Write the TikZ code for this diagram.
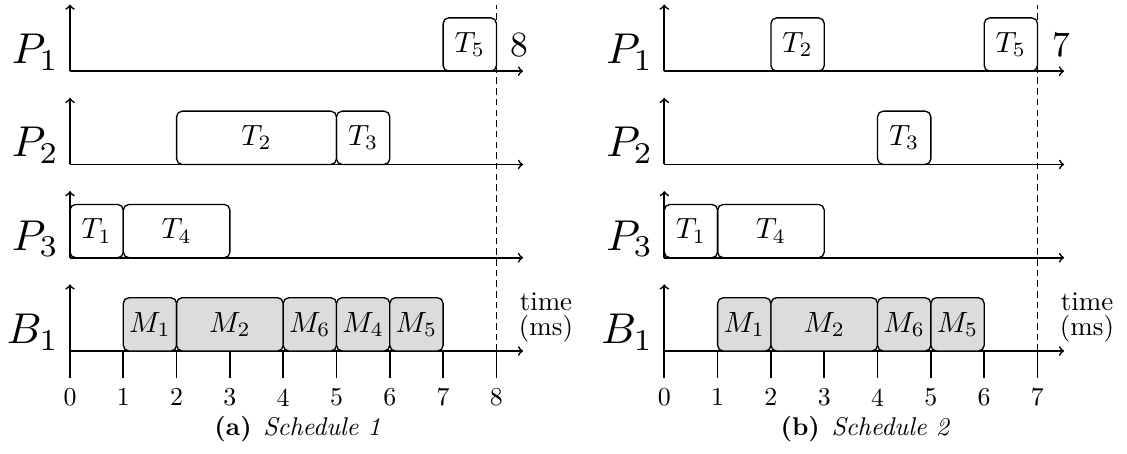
\documentclass[tikz,border=0pt]{standalone}
\usepackage{graphicx}
\definecolor{boxgray}{RGB}{220,220,220}
\newcommand{\bxt}[1]{\scalebox{1.56}{$#1$}}
\newcommand{\rwl}[1]{\scalebox{2.3}{$#1$}}
\newcommand{\tkl}[1]{\scalebox{1.38}{#1}}
\newcommand{\enl}[1]{\scalebox{1.9}{#1}}
\newcommand{\tml}{\scalebox{1.44}{\begin{tabular}{@{}c@{}}time\\[-2.7pt](ms)\end{tabular}}}
\newcommand{\cpl}[2]{\scalebox{1.37}{\textbf{(#1)}\hspace{0.45em}\textit{Schedule #2}}}
\tikzset{
  ax/.style={line width=0.9pt,->},
  tk/.style={line width=0.9pt},
  dl/.style={line width=0.7pt,dash pattern=on 3.5pt off 2.2pt},
  tbox/.style={draw,line width=0.7pt,rounded corners=3pt,inner sep=0pt,outer sep=0pt,
    minimum height=1cm},
  mbox/.style={tbox,fill=boxgray},
  rowlab/.style={anchor=base east,inner sep=0pt},
  ticklab/.style={inner sep=0pt},
  timelab/.style={inner sep=0pt},
  caplab/.style={anchor=base,inner sep=0pt},
}
\begin{document}
\begin{tikzpicture}
\useasboundingbox (-1.313,-1.932) rectangle (19.83,6.585);
% ---------------- panel (a) ----------------
\begin{scope}
\foreach \r/\y/\lab in {1/5.25/P_1,2/3.5/P_2,3/1.75/P_3,4/0/B_1}{
  \coordinate (a-o\r) at (0,\y);
  \coordinate (a-e\r) at (8.5,\y);
  \coordinate (a-v\r) at (0,\y+1.25);
  \draw[ax] (a-o\r) -- (a-e\r);
  \draw[ax] (a-o\r) -- (a-v\r);
  \node[rowlab] (a-lab\r) at (-0.2,\y+0.14) {\rwl{\lab}};
}
\foreach \i in {0,...,8}{
  \coordinate (a-tk\i) at (\i,0);
  \coordinate (a-tb\i) at (\i,-0.5);
  \draw[tk] (a-tk\i) -- (a-tb\i);
  \node[ticklab] (a-tl\i) at (\i,-0.87) {\tkl{\i}};
}
\coordinate (a-dt) at (8,6.5);
\draw[dl] (a-tk8) -- (a-dt);
\node[ticklab] (a-end) at (8.44,5.74) {\enl{8}};
\node[timelab] (a-time) at (8.93,0.64) {\tml};
% P1
\node[tbox,minimum width=1cm] (a-T5) at (7.5,5.75) {\bxt{T_5}};
% P2
\node[tbox,minimum width=3cm] (a-T2) at (3.5,4.0) {\bxt{T_2}};
\node[tbox,minimum width=1cm] (a-T3) at (5.5,4.0) {\bxt{T_3}};
% P3
\node[tbox,minimum width=1cm] (a-T1) at (0.5,2.25) {\bxt{T_1}};
\node[tbox,minimum width=2cm] (a-T4) at (2,2.25) {\bxt{T_4}};
% B1
\node[mbox,minimum width=1cm] (a-M1) at (1.5,0.5) {\bxt{M_1}};
\node[mbox,minimum width=2cm] (a-M2) at (3,0.5) {\bxt{M_2}};
\node[mbox,minimum width=1cm] (a-M6) at (4.5,0.5) {\bxt{M_6}};
\node[mbox,minimum width=1cm] (a-M4) at (5.5,0.5) {\bxt{M_4}};
\node[mbox,minimum width=1cm] (a-M5) at (6.5,0.5) {\bxt{M_5}};
\node[caplab] (a-cap) at (4.27,-1.58) {\cpl{a}{1}};
\end{scope}
% ---------------- panel (b) ----------------
\begin{scope}[xshift=11.15cm]
\foreach \r/\y/\lab in {1/5.25/P_1,2/3.5/P_2,3/1.75/P_3,4/0/B_1}{
  \coordinate (b-o\r) at (0,\y);
  \coordinate (b-e\r) at (7.5,\y);
  \coordinate (b-v\r) at (0,\y+1.25);
  \draw[ax] (b-o\r) -- (b-e\r);
  \draw[ax] (b-o\r) -- (b-v\r);
  \node[rowlab] (b-lab\r) at (-0.2,\y+0.14) {\rwl{\lab}};
}
\foreach \i in {0,...,7}{
  \coordinate (b-tk\i) at (\i,0);
  \coordinate (b-tb\i) at (\i,-0.5);
  \draw[tk] (b-tk\i) -- (b-tb\i);
  \node[ticklab] (b-tl\i) at (\i,-0.87) {\tkl{\i}};
}
\coordinate (b-dt) at (7,6.5);
\draw[dl] (b-tk7) -- (b-dt);
\node[ticklab] (b-end) at (7.44,5.74) {\enl{7}};
\node[timelab] (b-time) at (7.93,0.64) {\tml};
% P1
\node[tbox,minimum width=1cm] (b-T2) at (2.5,5.75) {\bxt{T_2}};
\node[tbox,minimum width=1cm] (b-T5) at (6.5,5.75) {\bxt{T_5}};
% P2
\node[tbox,minimum width=1cm] (b-T3) at (4.5,4.0) {\bxt{T_3}};
% P3
\node[tbox,minimum width=1cm] (b-T1) at (0.5,2.25) {\bxt{T_1}};
\node[tbox,minimum width=2cm] (b-T4) at (2,2.25) {\bxt{T_4}};
% B1
\node[mbox,minimum width=1cm] (b-M1) at (1.5,0.5) {\bxt{M_1}};
\node[mbox,minimum width=2cm] (b-M2) at (3,0.5) {\bxt{M_2}};
\node[mbox,minimum width=1cm] (b-M6) at (4.5,0.5) {\bxt{M_6}};
\node[mbox,minimum width=1cm] (b-M5) at (5.5,0.5) {\bxt{M_5}};
\node[caplab] (b-cap) at (3.77,-1.58) {\cpl{b}{2}};
\end{scope}
\end{tikzpicture}
\end{document}
